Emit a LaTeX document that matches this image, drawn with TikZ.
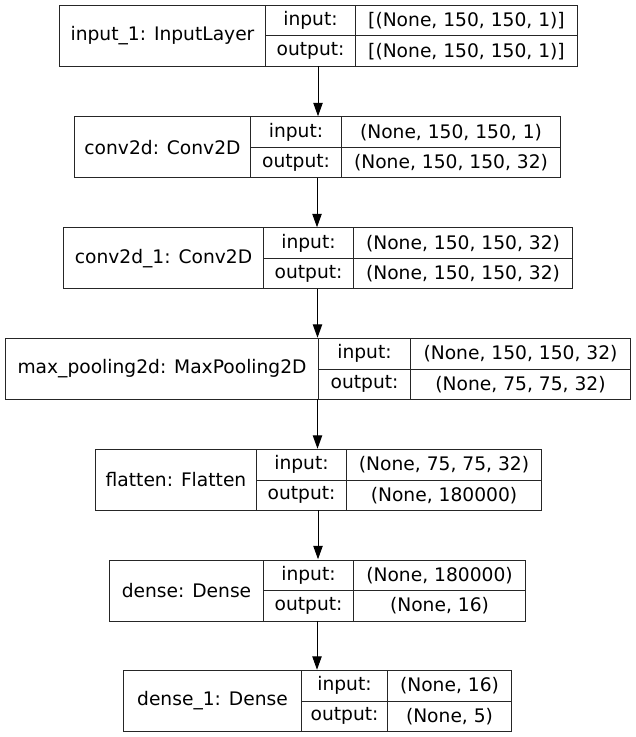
\documentclass[tikz,border=0pt]{standalone}
\usepackage{fontspec}
\setmainfont{DejaVu Sans}
\usetikzlibrary{arrows.meta}

\begin{document}
\begin{tikzpicture}[x=0.75pt,y=-0.75pt,
        cell/.style={draw=black!85, line width=0.75pt, inner sep=0pt, anchor=north west, minimum width=#1*0.75pt, minimum height=30.5*0.75pt, font=\fontsize{14}{16}\selectfont},
        namecell/.style={cell=#1, minimum height=61*0.75pt},
        layer/.style={inner sep=0pt, minimum width=#1*0.75pt, minimum height=61*0.75pt},
        flow/.style={-{Triangle[length=10pt,width=7pt]}, line width=0.75pt}]
        \useasboundingbox (0,0) rectangle (635,737);
        % input_1
        \node[layer=518] (l1) at (318,35.5) {};
        \node[namecell=206] (n1) at (59,5) {input\_1: InputLayer};
        \node[cell=90] (i1) at (265,5) {input:};
        \node[cell=90] (o1) at (265,35.5) {output:};
        \node[cell=222] (iv1) at (355,5) {[(None, 150, 150, 1)]};
        \node[cell=222] (ov1) at (355,35.5) {[(None, 150, 150, 1)]};
        % conv2d
        \node[layer=486] (l2) at (317,147) {};
        \node[namecell=176] (n2) at (74,116.5) {conv2d: Conv2D};
        \node[cell=91] (i2) at (250,116.5) {input:};
        \node[cell=91] (o2) at (250,147) {output:};
        \node[cell=219] (iv2) at (341,116.5) {(None, 150, 150, 1)};
        \node[cell=219] (ov2) at (341,147) {(None, 150, 150, 32)};
        % conv2d_1
        \node[layer=509] (l3) at (317.5,258) {};
        \node[namecell=200] (n3) at (63,227.5) {conv2d\_1: Conv2D};
        \node[cell=90] (i3) at (263,227.5) {input:};
        \node[cell=90] (o3) at (263,258) {output:};
        \node[cell=219] (iv3) at (353,227.5) {(None, 150, 150, 32)};
        \node[cell=219] (ov3) at (353,258) {(None, 150, 150, 32)};
        % max_pooling2d
        \node[layer=625] (l4) at (317.5,368.5) {};
        \node[namecell=313] (n4) at (5,338) {max\_pooling2d: MaxPooling2D};
        \node[cell=92] (i4) at (318,338) {input:};
        \node[cell=92] (o4) at (318,368.5) {output:};
        \node[cell=220] (iv4) at (410,338) {(None, 150, 150, 32)};
        \node[cell=220] (ov4) at (410,368.5) {(None, 75, 75, 32)};
        % flatten
        \node[layer=446] (l5) at (318,479.5) {};
        \node[namecell=161] (n5) at (95,449) {flatten: Flatten};
        \node[cell=90] (i5) at (256,449) {input:};
        \node[cell=90] (o5) at (256,479.5) {output:};
        \node[cell=195] (iv5) at (346,449) {(None, 75, 75, 32)};
        \node[cell=195] (ov5) at (346,479.5) {(None, 180000)};
        % dense
        \node[layer=416] (l6) at (317,590) {};
        \node[namecell=154] (n6) at (109,559.5) {dense: Dense};
        \node[cell=90] (i6) at (263,559.5) {input:};
        \node[cell=90] (o6) at (263,590) {output:};
        \node[cell=172] (iv6) at (353,559.5) {(None, 180000)};
        \node[cell=172] (ov6) at (353,590) {(None, 16)};
        % dense_1
        \node[layer=388] (l7) at (317,700.5) {};
        \node[namecell=178] (n7) at (123,670) {dense\_1: Dense};
        \node[cell=86] (i7) at (301,670) {input:};
        \node[cell=86] (o7) at (301,700.5) {output:};
        \node[cell=124] (iv7) at (387,670) {(None, 16)};
        \node[cell=124] (ov7) at (387,700.5) {(None, 5)};
        % arrows
        \draw[flow] (l1.south) -- (l1.south |- l2.north);
        \draw[flow] (l2.south) -- (l2.south |- l3.north);
        \draw[flow] (l3.south) -- (l3.south |- l4.north);
        \draw[flow] (l4.south) -- (l4.south |- l5.north);
        \draw[flow] (l5.south) -- (l5.south |- l6.north);
        \draw[flow] (l6.south) -- (l6.south |- l7.north);
\end{tikzpicture}
\end{document}
